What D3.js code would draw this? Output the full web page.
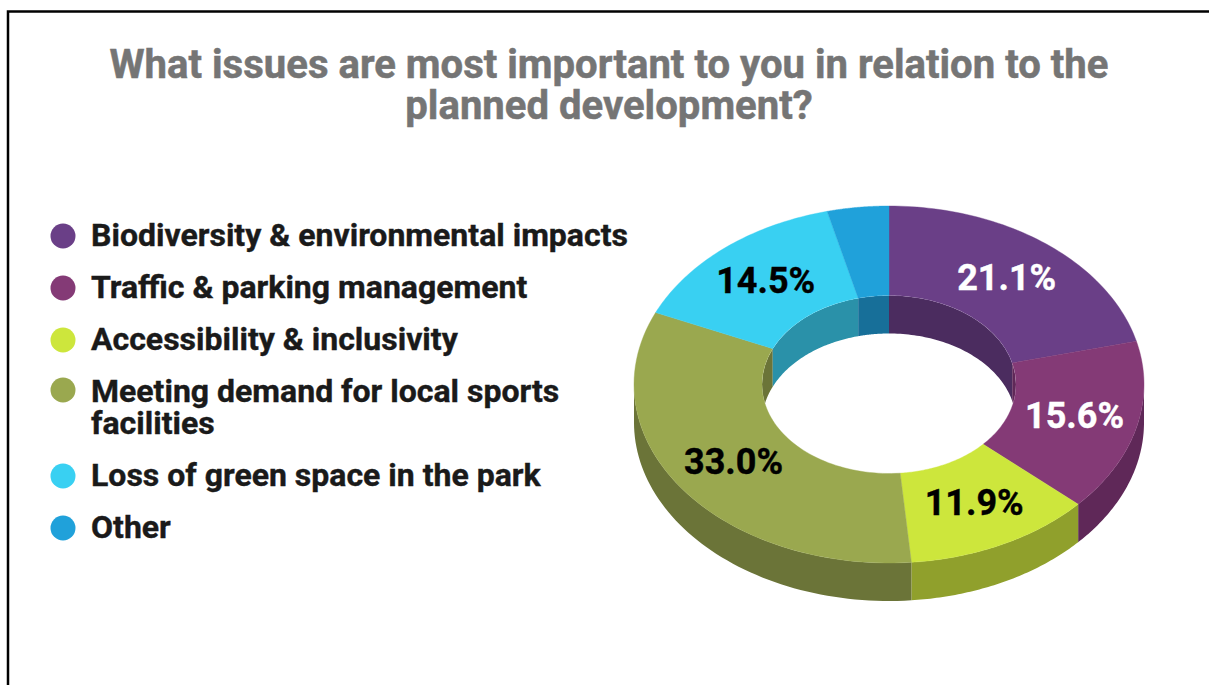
<!DOCTYPE html>
<html><head><meta charset="utf-8">
<script src="https://cdn.jsdelivr.net/npm/d3@7"></script>
<style>html,body{margin:0;padding:0;background:#fff;overflow:hidden}svg{display:block}text{font-family:Roboto,sans-serif;font-weight:700}</style>
</head><body><svg id="c" width="1209" height="685"></svg>
<script>
const titleLines = ["What issues are most important to you in relation to the", "planned development?"];
const categories = [["Biodiversity & environmental impacts"], ["Traffic & parking management"], ["Accessibility & inclusivity"], ["Meeting demand for local sports", "facilities"], ["Loss of green space in the park"], ["Other"]];
const values = [21.1, 15.6, 11.9, 33.0, 14.5, 3.9];
const showLabel = [true, true, true, true, true, false];
const labelColors = ["#fff", "#fff", "#000", "#000", "#000", "#000"];
const topColors = ["#6a3f87", "#843a76", "#cde63c", "#9aa84f", "#39d0f2", "#20a1da"];
const sideColors = ["#4b2c5f", "#5f2858", "#90a02c", "#6b7438", "#2a91a9", "#176f99"];

const svg = d3.select("#c");
svg.append("rect").attr("x", 8).attr("y", 11.5).attr("width", 1400).attr("height", 900)
  .attr("fill", "#fff").attr("stroke", "#000").attr("stroke-width", 2.5);

svg.selectAll(".title").data(titleLines).join("text").attr("class", "title")
  .attr("x", 609).attr("y", (d, i) => 78 + i * 41).attr("text-anchor", "middle")
  .attr("font-size", 40.1).attr("fill", "#757575").attr("stroke", "#757575").attr("stroke-width", 0.5).text(d => d);

// legend
let y = 246;
categories.forEach((lines, i) => {
  svg.append("circle").attr("cx", 63).attr("cy", y - 10 + (lines.length > 1 ? -2 : 0))
    .attr("r", 12.5).attr("fill", topColors[i]);
  lines.forEach((t, j) => {
    svg.append("text").attr("x", 91).attr("y", y + j * 32).attr("font-size", 32)
      .attr("fill", "#1a1a1a").attr("stroke", "#1a1a1a").attr("stroke-width", 0.4).text(t);
  });
  y += 52 + (lines.length - 1) * 32;
});

// projected donut
const cx = 889, cy = 384.5, rxO = 255, ryO = 178.5, depth = 38;
const rxI = 127, ryI = 89;
const arcs = d3.pie().sort(null).value(d => d)(values);
const outerP = (t, dy = 0) => [cx + rxO * Math.sin(t), cy - ryO * Math.cos(t) + dy];
const innerP = (t, dy = 0) => [cx + rxI * Math.sin(t), cy - ryI * Math.cos(t) + dy];
const samples = (a, b) => d3.range(0, 61).map(k => a + (b - a) * k / 60);
const line = d3.line();
const closed = pts => line(pts) + "Z";
const PI = Math.PI;

// outer wall: near half of the ellipse
arcs.forEach((a, i) => {
  const s = Math.max(a.startAngle, PI / 2), e = Math.min(a.endAngle, 3 * PI / 2);
  if (e <= s) return;
  const ts = samples(s, e);
  svg.append("path").attr("fill", sideColors[i])
    .attr("d", closed(ts.map(t => outerP(t)).concat(ts.slice().reverse().map(t => outerP(t, depth)))));
});

// inner wall: far half of the hole, seen through it
const defs = svg.append("defs");
defs.append("clipPath").attr("id", "hole").append("path").attr("d", closed(samples(0, 2 * PI).map(t => innerP(t))));
const wall = svg.append("g").attr("clip-path", "url(#hole)");
arcs.forEach((a, i) => {
  const ranges = [[a.startAngle, Math.min(a.endAngle, PI / 2)], [Math.max(a.startAngle, 3 * PI / 2), a.endAngle]];
  ranges.forEach(([s, e]) => {
    if (e <= s) return;
    const ts = samples(s, e);
    wall.append("path").attr("fill", sideColors[i])
      .attr("d", closed(ts.map(t => innerP(t)).concat(ts.slice().reverse().map(t => innerP(t, depth)))));
  });
});

// top faces
arcs.forEach((a, i) => {
  const ts = samples(a.startAngle, a.endAngle);
  svg.append("path").attr("fill", topColors[i]).attr("stroke", topColors[i]).attr("stroke-width", 0.4)
    .attr("d", closed(ts.map(t => outerP(t)).concat(ts.slice().reverse().map(t => innerP(t)))));
});

// labels
arcs.forEach((a, i) => {
  if (!showLabel[i]) return;
  const m = (a.startAngle + a.endAngle) / 2;
  svg.append("text").attr("x", cx + rxO * 0.75 * Math.sin(m)).attr("y", cy - ryO * 0.75 * Math.cos(m) + 11)
    .attr("text-anchor", "middle").attr("font-size", 36).attr("fill", labelColors[i])
    .attr("stroke", labelColors[i]).attr("stroke-width", 0.4)
    .text(values[i].toFixed(1) + "%");
});
</script></body></html>
